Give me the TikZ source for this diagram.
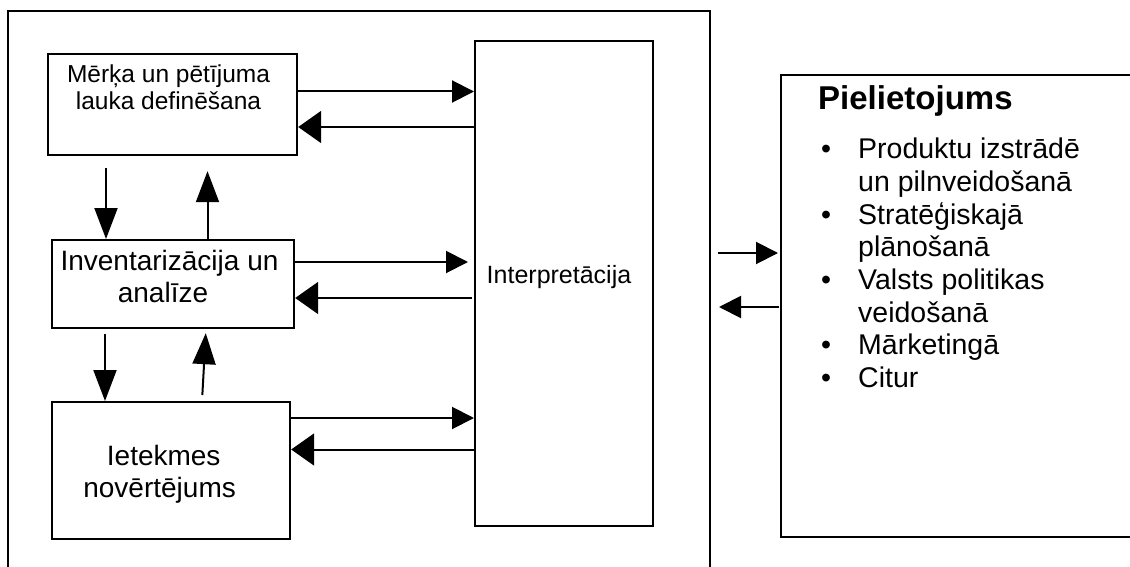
\documentclass[tikz,border=0pt]{standalone}
\usepackage{fontspec}
\setmainfont{Liberation Sans}
\usetikzlibrary{arrows.meta}

\begin{document}
\begin{tikzpicture}[x=1pt,y=-1pt,
  box/.style={draw, line width=2.2pt, anchor=north west, inner sep=0pt},
  conn/.style={line width=2pt},
  arrH/.style={conn, -{Triangle[length=22pt,width=22pt]}},
  arrL/.style={conn, -{Triangle[length=23pt,width=32pt]}},
  arrV/.style={conn, -{Triangle[length=31pt,width=23pt]}},
  smalltxt/.style={font=\fontsize{24.5}{29}\selectfont, anchor=base, inner sep=0pt},
  bigtxt/.style={font=\fontsize{28}{32}\selectfont, anchor=base, inner sep=0pt},
  listtxt/.style={font=\fontsize{28.5}{32}\selectfont, anchor=base west, inner sep=0pt},
  bullet/.style={font=\fontsize{28.5}{32}\selectfont, anchor=base, inner sep=0pt}
]
\useasboundingbox (0,0) rectangle (1130,567);
\fill[white] (0,0) rectangle (1130,567);
\clip (0,0) rectangle (1130,567);

% boxes
\node[box, line width=2pt, minimum width=702pt, minimum height=620pt] (outer) at (7,10) {};
\node[box, minimum width=249pt, minimum height=101pt] (b1) at (47,53) {};
\node[box, minimum width=242pt, minimum height=88pt] (b2) at (51,239) {};
\node[box, minimum width=238pt, minimum height=137pt] (b3) at (51,401) {};
\node[box, minimum width=178pt, minimum height=485pt] (I) at (474,40) {};
\node[box, minimum width=420pt, minimum height=462pt] (piel) at (780,74) {};

% texts in left boxes
\node[smalltxt] (t1a) at (168.5,82.7) {Mērķa un pētījuma};
\node[smalltxt] (t1b) at (168.5,110) {lauka definēšana};
\node[bigtxt] (t2a) at (169.5,270.7) {Inventarizācija un};
\node[bigtxt] (t2b) at (163,302.5) {analīze};
\node[bigtxt] (t3a) at (163.7,465) {Ietekmes};
\node[bigtxt] (t3b) at (159.6,497.7) {novērtējums};
\node[smalltxt, font=\fontsize{25}{29}\selectfont] (ti) at (559,283) {Interpretācija};

% right box
\node[anchor=base west, inner sep=0pt, font=\bfseries\fontsize{33}{38}\selectfont] (head) at (818,110) {Pielietojums};
\foreach \i/\b/\t in {1/1/Produktu izstrādē, 2/0/un pilnveidošanā, 3/1/Stratēģiskajā, 4/0/plānošanā, 5/1/Valsts politikas, 6/0/veidošanā, 7/1/Mārketingā, 8/1/Citur}{
  \pgfmathsetmacro{\yy}{159+32.65*(\i-1)}
  \node[listtxt] (l\i) at (858,\yy) {\t};
  \ifnum\b=1 \node[bullet] (bu\i) at (826,\yy) {•};\fi
}

% horizontal connectors
\draw[arrH] (b1.east |- 0,91.5) -- (I.west |- 0,91.5);
\draw[arrL] (I.west |- 0,127) -- (b1.east |- 0,127);
\draw[arrH, shorten >=6pt] (b2.east |- 0,262) -- (I.west |- 0,262);
\draw[arrL, shorten <=2pt] (I.west |- 0,298) -- (b2.east |- 0,298);
\draw[arrH] (b3.east |- 0,418) -- (I.west |- 0,418);
\draw[arrL] (I.west |- 0,449.5) -- (b3.east |- 0,449.5);

% vertical connectors
\draw[arrV, shorten <=12pt] (b1.south -| 106,0) -- (b2.north -| 106,0);
\draw[arrV, shorten >=15pt] (b2.north -| 207.5,0) -- (b1.south -| 207.5,0);
\draw[arrV, shorten <=5pt] (b2.south -| 105,0) -- (b3.north -| 105,0);
\draw[arrV, shorten <=6pt, shorten >=4pt] (b3.north -| 202,0) -- (b2.south -| 206,0);

% outer <-> Pielietojums
\draw[arrH, shorten <=7pt, shorten >=2pt] (outer.east |- 0,253) -- (piel.west |- 0,253);
\draw[arrH, shorten <=1pt, shorten >=8pt] (piel.west |- 0,307) -- (outer.east |- 0,307);
\end{tikzpicture}
\end{document}
